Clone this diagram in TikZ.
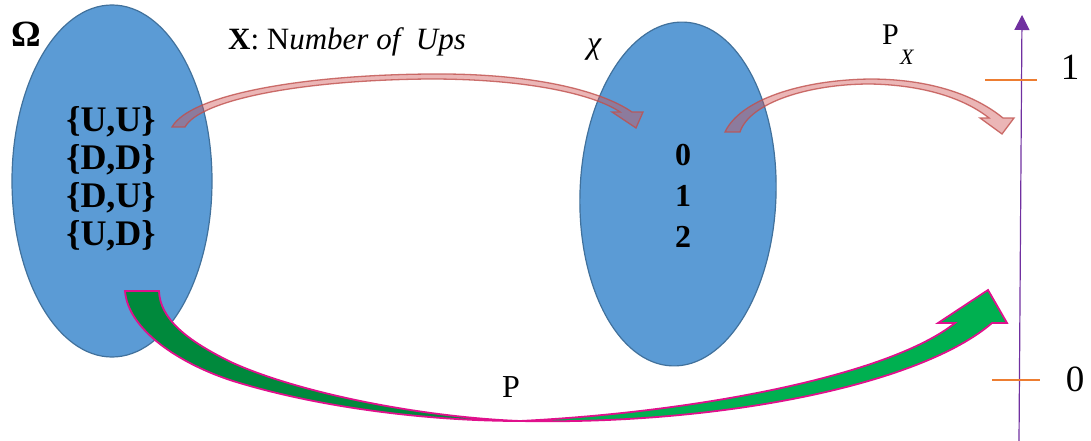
\documentclass[tikz,border=0pt]{standalone}
\usepackage{fontspec}
\setmainfont{Liberation Serif}
\usetikzlibrary{shapes.geometric,arrows.meta}
\definecolor{ellfill}{HTML}{5B9BD5}
\definecolor{elldraw}{HTML}{41719C}
\definecolor{arrred}{HTML}{D05050}
\definecolor{arrreddraw}{HTML}{C0504D}
\definecolor{grndark}{HTML}{00893C}
\definecolor{grnlight}{HTML}{00B050}
\definecolor{magline}{HTML}{E0108C}
\definecolor{axispurple}{HTML}{7030A0}
\definecolor{tickorange}{HTML}{ED7D31}
\begin{document}
\begin{tikzpicture}[x=1pt,y=-1pt,
  setshape/.style={ellipse,fill=ellfill,draw=elldraw,line width=1.2pt,inner sep=0pt},
  redarr/.style={fill=arrred,fill opacity=0.42,draw=arrreddraw,draw opacity=0.8,line width=1.3pt,line join=miter},
  grnarr/.style={draw=magline,line width=1.8pt,line join=miter},
  lbl/.style={inner sep=0pt,anchor=base west},
  tickline/.style={draw=tickorange,line width=1.4pt}]
\useasboundingbox (0,0) rectangle (1091,441);

% sets
\node[setshape,minimum width=200pt,minimum height=352pt] (omega) at (112,181) {};
\node[setshape,minimum width=196pt,minimum height=344pt,rotate=-2] (chiset) at (678,194) {};

% elements
\node[inner sep=0pt,align=center,font=\fontsize{36}{38}\selectfont\bfseries] (elems) at (111,179)
  {\{U,U\}\\\{D,D\}\\\{D,U\}\\\{U,D\}};
\node[inner sep=0pt,align=center,font=\fontsize{32}{41}\selectfont\bfseries] (vals) at (683,196)
  {0\\1\\2};

% labels
\node[lbl,font=\fontsize{37}{37}\selectfont\bfseries] (omegalbl) at (11,47) {Ω};
\node[lbl,font=\fontsize{31}{31}\selectfont] (xlbl) at (228,50) {\textbf{X}: N\textit{umber\ of\ \ Ups}};
\node[lbl,font=\fontsize{32}{32}\selectfont\itshape] (chilbl) at (587,54) {χ};
\node[lbl,font=\fontsize{30}{30}\selectfont] (pxlbl) at (882,45) {P};
\node[lbl,font=\fontsize{22}{22}\selectfont\itshape] (pxsub) at (900,65) {X};
\node[lbl,font=\fontsize{32}{32}\selectfont] (plbl) at (502,397) {P};

% axis
\coordinate (axbot) at (1019,441);
\coordinate (axtop) at (1022,15);
\draw[axispurple,line width=1.2pt,-{Triangle[length=15pt,width=15pt]}] (axbot) -- (axtop);
\coordinate (t1a) at (985,80); \coordinate (t1b) at (1037,80);
\coordinate (t0a) at (992,380); \coordinate (t0b) at (1040,380);
\draw[tickline] (t1a) -- (t1b);
\draw[tickline] (t0a) -- (t0b);
\node[inner sep=0pt,anchor=base,font=\fontsize{37}{37}\selectfont] (one) at (1070,80) {1};
\node[inner sep=0pt,anchor=base,font=\fontsize{37}{37}\selectfont] (zero) at (1075,391) {0};

% red arrow X
\path[redarr] (172,127) .. controls (190,95) and (300,75) .. (430,74)
  .. controls (530,73) and (600,90) .. (632,112)
  -- (643,112) -- (636,128) -- (612,112) -- (620,112)
  .. controls (595,95) and (530,79) .. (430,79)
  .. controls (300,80) and (200,100) .. (185,127) -- cycle;

% red arrow P_X
\path[redarr] (725,132) .. controls (740,100) and (800,80) .. (870,79)
  .. controls (930,79) and (975,95) .. (1003,118)
  -- (1014,118) -- (1002,134) -- (980,118) -- (989,118)
  .. controls (965,99) and (925,85) .. (870,84)
  .. controls (810,84) and (750,102) .. (740,132) -- cycle;

% green arrow P
\path[grnarr,fill=grndark] (125,291) -- (159,291)
  .. controls (160,318) and (185,340) .. (233,363)
  .. controls (300,393) and (420,417) .. (520,421)
  .. controls (430,421) and (320,408) .. (233,381)
  .. controls (180,364) and (128,330) .. (125,291) -- cycle;
\path[grnarr,fill=grnlight] (520,421)
  .. controls (700,412) and (890,375) .. (955,323)
  -- (938,323) -- (988,290) -- (1007,323) -- (992,323)
  .. controls (920,385) and (720,425) .. (520,421) -- cycle;
\end{tikzpicture}
\end{document}
